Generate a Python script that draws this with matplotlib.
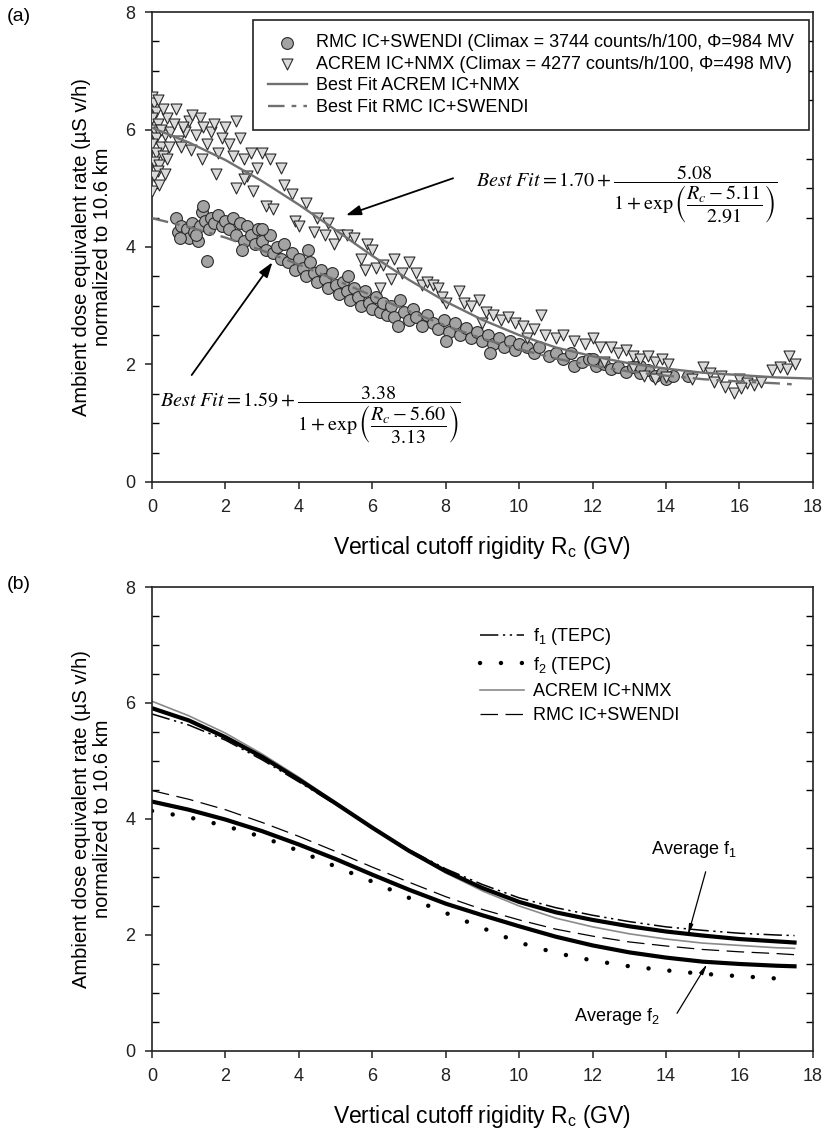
import matplotlib
matplotlib.use("Agg")
import matplotlib.pyplot as plt
from matplotlib.ticker import MultipleLocator

# ---------------- panel (a): measured points ----------------
acrem_x = [0.0, 0.05, 0.1, 0.0, 0.15, 0.05, 0.2, 0.1, 0.0, 0.25, 0.1, 0.3, 0.05, 0.2, 0.15, 0.05, 0.0,
           0.35, 0.4, 0.3, 0.45, 0.4, 0.25, 0.5, 0.15, 0.35, 0.2,
           0.6, 0.7, 0.8, 0.9, 1.0, 1.05, 1.2, 1.3, 1.4, 1.5, 1.6, 1.7, 1.8, 1.9, 0.65, 1.35, 1.75, 1.1, 0.85,
           2.0, 2.1, 2.2, 2.3, 2.4, 2.5, 2.6, 2.7, 2.75, 2.85, 3.0, 3.1, 3.2, 3.3, 3.5, 3.6, 3.8, 3.9, 4.0, 2.3, 2.5,
           4.2, 4.4, 4.5, 4.7, 4.8, 4.95, 5.1, 5.3, 5.5, 5.7, 5.85, 6.0, 6.1, 6.3, 6.5, 6.6, 6.8, 7.0, 7.2, 7.35,
           7.5, 7.65, 7.8, 7.9, 8.0, 6.2, 5.8,
           8.35, 8.5, 8.7, 8.9, 9.1, 9.3, 9.5, 9.7, 9.9, 10.1, 10.4, 10.6, 10.7, 11.0, 11.2, 11.5, 11.8, 12.0,
           12.2, 12.5, 12.7, 12.9, 13.1, 13.3, 13.5, 13.7, 13.9, 14.05, 13.4, 13.7, 14.0, 12.3, 13.1, 10.2, 9.0,
           14.7, 15.0, 15.2, 15.3, 15.5, 15.85, 16.0, 16.2, 16.4, 16.6, 16.9, 17.1, 17.3, 17.35, 17.5, 16.05, 15.6]
acrem_y = [6.55, 6.45, 6.3, 6.2, 6.1, 6.0, 5.95, 5.85, 5.75, 5.7, 5.6, 5.55, 5.45, 5.4, 5.3, 5.2, 4.95,
           5.9, 6.2, 6.35, 5.7, 5.5, 6.0, 5.95, 6.5, 5.25, 5.05,
           6.1, 5.8, 5.7, 5.95, 6.15, 5.65, 5.9, 6.2, 6.05, 5.75, 5.95, 6.1, 5.6, 5.85, 6.35, 5.5, 5.25, 6.25, 6.05,
           6.05, 5.75, 5.55, 6.15, 5.85, 5.5, 5.2, 5.6, 4.95, 5.35, 5.6, 4.7, 5.5, 4.65, 5.35, 5.05, 4.9, 4.45, 4.35, 5.0, 5.15,
           4.75, 4.25, 4.5, 4.2, 4.4, 4.05, 4.2, 4.2, 4.15, 3.8, 4.05, 3.95, 3.65, 3.7, 3.45, 3.8, 3.55, 3.75, 3.55, 3.35,
           3.4, 3.35, 3.3, 3.15, 3.05, 3.3, 3.6,
           3.25, 3.05, 3.0, 3.1, 2.9, 2.85, 2.75, 2.8, 2.7, 2.65, 2.6, 2.85, 2.5, 2.45, 2.5, 2.4, 2.35, 2.45,
           2.3, 2.3, 2.2, 2.25, 2.15, 2.1, 2.15, 2.05, 2.1, 2.0, 1.8, 1.75, 1.78, 2.05, 1.95, 2.45, 2.7,
           1.75, 1.95, 1.85, 1.7, 1.8, 1.52, 1.75, 1.68, 1.65, 1.7, 1.9, 1.95, 1.92, 2.15, 2.0, 1.6, 1.62]

rmc_x = [0.65, 0.7, 0.8, 0.9, 0.95, 1.0, 1.1, 1.15, 1.25, 1.3, 1.35, 1.4, 1.45, 1.5, 1.55, 1.6, 1.7, 1.8, 1.9, 2.0, 0.75, 1.2,
         2.1, 2.2, 2.3, 2.4, 2.5, 2.6, 2.7, 2.8, 2.9, 3.0, 3.1, 3.2, 3.3, 3.4, 3.5, 3.6, 3.7, 3.8, 3.9, 4.0, 2.45, 3.0,
         4.1, 4.2, 4.3, 4.4, 4.5, 4.6, 4.7, 4.8, 4.9, 5.0, 5.1, 5.2, 5.3, 5.4, 5.5, 5.6, 5.7, 5.8, 5.9, 6.0,
         6.1, 6.2, 6.3, 6.4, 6.5, 6.6, 6.75, 6.85, 7.0, 7.1, 4.25, 5.35, 6.7,
         7.2, 7.35, 7.5, 7.65, 7.8, 7.95, 8.1, 8.25, 8.4, 8.55, 8.7, 8.85, 9.0, 9.15, 9.3, 9.45, 9.6, 9.75, 9.9, 10.0, 8.0, 9.2,
         10.2, 10.4, 10.55, 10.8, 11.0, 11.2, 11.5, 11.4, 11.7, 11.9, 12.1, 12.3, 12.5, 12.7, 12.9, 13.1, 13.3,
         13.5, 13.7, 13.9, 14.0, 14.2, 14.6, 12.0, 13.3]
rmc_y = [4.5, 4.25, 4.35, 4.2, 4.3, 4.15, 4.4, 4.25, 4.1, 4.35, 4.6, 4.7, 4.45, 3.77, 4.3, 4.5, 4.4, 4.55, 4.35, 4.45, 4.15, 4.2,
         4.3, 4.5, 4.2, 4.4, 4.1, 4.35, 4.2, 4.05, 4.3, 4.1, 3.95, 4.2, 3.9, 4.0, 3.8, 4.05, 3.75, 3.9, 3.6, 3.8, 3.95, 4.3,
         3.65, 3.5, 3.75, 3.55, 3.4, 3.6, 3.45, 3.3, 3.55, 3.35, 3.2, 3.4, 3.25, 3.1, 3.3, 3.15, 3.0, 3.25, 3.05, 2.95,
         3.15, 2.9, 3.05, 2.85, 3.0, 2.8, 3.1, 2.9, 2.75, 2.95, 3.95, 3.5, 2.65,
         2.8, 2.65, 2.85, 2.7, 2.6, 2.75, 2.55, 2.7, 2.5, 2.62, 2.45, 2.55, 2.4, 2.5, 2.35, 2.45, 2.3, 2.4, 2.25, 2.35, 2.4, 2.2,
         2.3, 2.2, 2.3, 2.15, 2.2, 2.1, 1.98, 2.2, 2.05, 2.1, 1.98, 2.0, 1.92, 1.95, 1.88, 1.95, 1.85,
         1.9, 1.8, 1.85, 1.75, 1.8, 1.8, 2.1, 1.98]

# best-fit curves read at 1 GV steps
fit_x = [0, 1, 2, 3, 4, 5, 6, 7, 8, 9, 10, 11, 12, 13, 14, 15, 16, 17, 17.5, 18]
fit_acrem = [6.03, 5.78, 5.48, 5.12, 4.72, 4.29, 3.85, 3.44, 3.07, 2.76, 2.50, 2.29, 2.14, 2.02, 1.93,
             1.86, 1.82, 1.78, 1.77, 1.76]
fit_rmc = [4.49, 4.34, 4.16, 3.94, 3.70, 3.44, 3.17, 2.91, 2.66, 2.44, 2.26, 2.10, 1.98, 1.88, 1.81,
           1.75, 1.71, 1.68, 1.66, 1.65]

# ---------------- panel (b) ----------------
curve_x = fit_x[:-1]
avg_f1 = [5.91, 5.70, 5.41, 5.07, 4.68, 4.27, 3.85, 3.45, 3.10, 2.81, 2.57, 2.39, 2.26, 2.15, 2.06,
          1.99, 1.93, 1.89, 1.87]
f1_tepc = [5.81, 5.62, 5.36, 5.02, 4.64, 4.25, 3.85, 3.47, 3.14, 2.87, 2.64, 2.47, 2.34, 2.23, 2.14,
           2.08, 2.03, 2.00, 1.99]
avg_f2 = [4.30, 4.16, 3.99, 3.79, 3.56, 3.31, 3.04, 2.78, 2.54, 2.34, 2.15, 1.97, 1.82, 1.70, 1.61,
          1.54, 1.50, 1.47, 1.46]
f2_tepc = [4.14, 4.03, 3.88, 3.69, 3.45, 3.18, 2.92, 2.64, 2.38, 2.12, 1.87, 1.69, 1.56, 1.46, 1.39,
           1.33, 1.29, 1.25, 1.24]
acrem_b = fit_acrem[:-1]
rmc_b = fit_rmc[:-1]

SANS = "Liberation Sans"
plt.rcParams["font.family"] = [SANS, "DejaVu Sans"]
plt.rcParams["mathtext.fontset"] = "custom"
plt.rcParams["mathtext.rm"] = SANS
plt.rcParams["mathtext.it"] = SANS + ":italic"

YLABEL = "Ambient dose equivalent rate (\u00b5S v/h)\nnormalized to 10.6 km"
XLABEL = r"Vertical cutoff rigidity R$_\mathrm{c}$ (GV)"


def style_axis(ax):
    ax.set_xlim(0, 18)
    ax.set_ylim(0, 8)
    ax.xaxis.set_major_locator(MultipleLocator(2))
    ax.yaxis.set_major_locator(MultipleLocator(2))
    ax.yaxis.set_minor_locator(MultipleLocator(0.5))
    ax.tick_params(axis="both", which="major", direction="out", length=5, width=1.1,
                   labelsize=13, pad=7, colors="#222222")
    ax.tick_params(axis="y", which="minor", direction="in", length=5, width=1.0,
                   left=True, right=True)
    ax.tick_params(axis="y", which="major", right=False)
    for sp in ax.spines.values():
        sp.set_linewidth(1.2)
        sp.set_color("#222222")
    ax.set_xlabel(XLABEL, fontsize=16.5, labelpad=13)
    ax.set_ylabel(YLABEL, fontsize=14.5, linespacing=1.15)
    ax.yaxis.set_label_coords(-0.06, 0.5)


fig = plt.figure(figsize=(8.24, 11.33), dpi=100)
ax1 = fig.add_axes([0.1845, 0.5746, 0.802, 0.4148])
ax2 = fig.add_axes([0.1845, 0.0724, 0.802, 0.4095])

# ---- (a)
ax1.scatter(rmc_x, rmc_y, s=72, marker="o", facecolor="#a3a3a3", edgecolor="#2a2a2a",
            linewidth=0.8, zorder=3,
            label="RMC IC+SWENDI (Climax = 3744 counts/h/100, \u03a6=984 MV")
ax1.scatter(acrem_x, acrem_y, s=62, marker="v", facecolor="#dadada", edgecolor="#2a2a2a",
            linewidth=0.8, zorder=3,
            label="ACREM IC+NMX (Climax = 4277 counts/h/100, \u03a6=498 MV)")
ax1.plot(fit_x, fit_acrem, "-", color="#707070", lw=1.7, zorder=4, label="Best Fit ACREM IC+NMX")
ax1.plot(fit_x[:-1], fit_rmc[:-1], color="#707070", lw=1.7, zorder=4,
         linestyle=(0, (7, 3, 2, 3)), label="Best Fit RMC IC+SWENDI")
style_axis(ax1)
leg1 = ax1.legend(loc="upper right", bbox_to_anchor=(0.994, 0.983), fontsize=13,
                  frameon=True, fancybox=False, edgecolor="#222222", framealpha=1,
                  handlelength=2.15, handletextpad=0.55, labelspacing=0.25, borderpad=0.8,
                  borderaxespad=0, scatterpoints=1)
leg1.get_frame().set_linewidth(1.2)

ax1.text(8.83, 4.88,
         r"$Best\ Fit = 1.70 + \dfrac{5.08}{1 + \exp\left(\dfrac{R_c - 5.11}{2.91}\right)}$",
         math_fontfamily="stix", fontsize=14.5, va="center", ha="left")
ax1.text(0.22, 1.13,
         r"$Best\ Fit = 1.59 + \dfrac{3.38}{1 + \exp\left(\dfrac{R_c - 5.60}{3.13}\right)}$",
         math_fontfamily="stix", fontsize=14.5, va="center", ha="left")
ax1.annotate("", xy=(5.28, 4.54), xytext=(8.2, 5.17),
             arrowprops=dict(arrowstyle="-|>,head_length=0.9,head_width=0.3", color="black",
                             lw=1.3, shrinkA=0, shrinkB=0), zorder=5)
ax1.annotate("", xy=(3.28, 3.74), xytext=(1.08, 1.82),
             arrowprops=dict(arrowstyle="-|>,head_length=0.9,head_width=0.3", color="black",
                             lw=1.3, shrinkA=0, shrinkB=0), zorder=5)

# ---- (b)
ax2.plot(curve_x, f1_tepc, color="black", lw=1.1, linestyle=(0, (12, 3, 1.5, 3, 1.5, 3)),
         label=r"f$_1$ (TEPC)")
ax2.plot(curve_x, f2_tepc, color="black", lw=3.2, linestyle=(0, (0.01, 4.7)),
         dash_capstyle="round", label=r"f$_2$ (TEPC)")
ax2.plot(curve_x, acrem_b, color="#8a8a8a", lw=1.2, label="ACREM IC+NMX")
ax2.plot(curve_x, rmc_b, color="black", lw=0.9, linestyle=(0, (14, 6)), label="RMC IC+SWENDI")
ax2.plot(curve_x, avg_f1, color="black", lw=3.0)
ax2.plot(curve_x, avg_f2, color="black", lw=3.0)
style_axis(ax2)
ax2.legend(loc="upper left", bbox_to_anchor=(0.472, 0.95), fontsize=13, frameon=False,
           handlelength=2.4, handletextpad=0.55, labelspacing=0.4)

ax2.annotate(r"Average f$_1$", xy=(14.6, 2.0), xytext=(13.6, 3.47), fontsize=13,
             va="center", ha="left")
ax2.annotate("", xy=(14.6, 2.0), xytext=(15.08, 3.09),
             arrowprops=dict(arrowstyle="-|>,head_length=0.6,head_width=0.12", color="black",
                             lw=0.9, shrinkA=0, shrinkB=0, facecolor="white"))
ax2.annotate(r"Average f$_2$", xy=(15.12, 1.50), xytext=(11.5, 0.59), fontsize=13,
             va="center", ha="left")
ax2.annotate("", xy=(15.12, 1.50), xytext=(14.3, 0.65),
             arrowprops=dict(arrowstyle="-|>,head_length=0.6,head_width=0.12", color="black",
                             lw=0.9, shrinkA=0, shrinkB=0, facecolor="white"))

fig.text(0.008, 0.993, "(a)", fontsize=14, va="top", ha="left")
fig.text(0.008, 0.492, "(b)", fontsize=14, va="top", ha="left")

fig.savefig("out.png", dpi=100)
